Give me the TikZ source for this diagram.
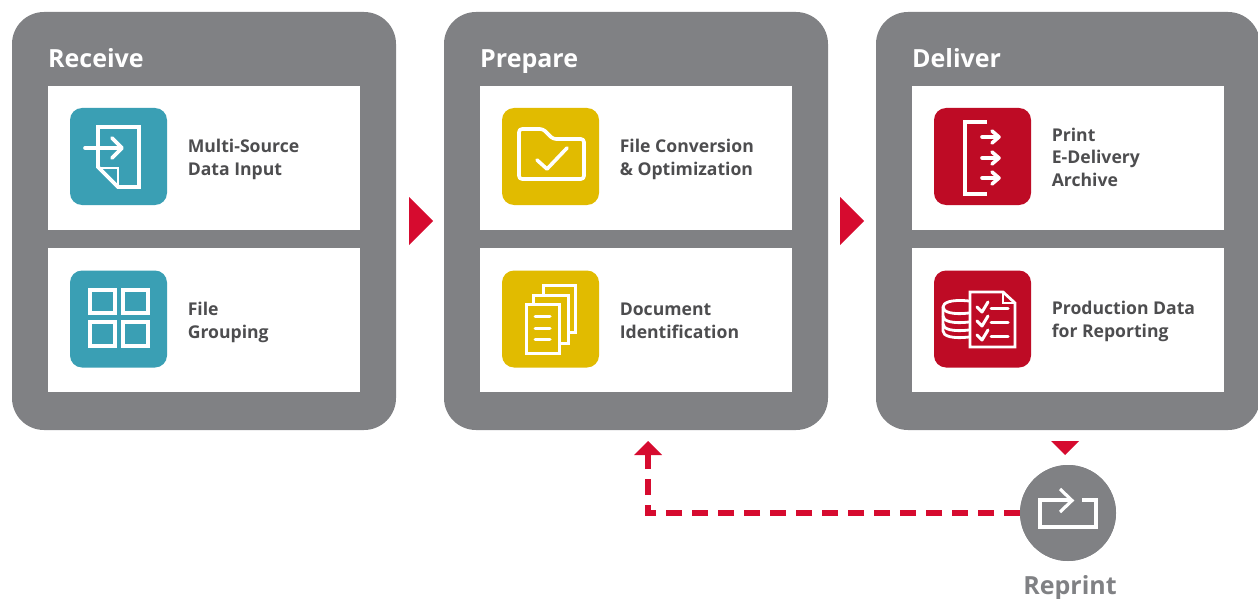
\documentclass[tikz,border=0pt]{standalone}
\usepackage{fontspec}
\setmainfont{Open Sans}
\usetikzlibrary{calc}
\definecolor{panelgray}{HTML}{808184}
\definecolor{iconteal}{HTML}{3A9FB4}
\definecolor{iconyellow}{HTML}{E1BB00}
\definecolor{iconred}{HTML}{BE0B25}
\definecolor{arrowred}{HTML}{D60B2F}
\definecolor{textdark}{HTML}{4D4D4F}
\tikzset{
  panel/.style={fill=panelgray,draw=none,rounded corners=32pt,minimum width=384pt,minimum height=418pt,inner sep=0pt,outer sep=0pt},
  card/.style={fill=white,draw=none,minimum width=312pt,inner sep=0pt,outer sep=0pt},
  iconbox/.style={draw=none,rounded corners=12pt,minimum width=97pt,minimum height=97pt,inner sep=0pt,outer sep=0pt},
  title/.style={anchor=base west,text=white,font=\bfseries\fontsize{25}{30}\selectfont,inner sep=0pt},
  label/.style={anchor=west,align=left,text=textdark,font=\bfseries\fontsize{17.6}{23}\selectfont,inner sep=0pt},
  glyph/.style={draw=white,line width=3.6pt,line join=miter,fill=none},
  glyphr/.style={draw=white,line width=3.6pt,line join=round,line cap=round,fill=none},
  redshape/.style={fill=arrowred,draw=none},
  x=1pt,y=-1pt
}
\begin{document}
\begin{tikzpicture}[x=1pt,y=-1pt]
\useasboundingbox (0,0) rectangle (1258,599);
% panels
\node[panel] (p1) at (204,221) {};
\node[panel] (p2) at (636,221) {};
\node[panel] (p3) at (1068,221) {};
\node[title] (t1) at (48,68) {Receive};
\node[title] (t2) at (480,68) {Prepare};
\node[title] (t3) at (912,68) {Deliver};
% cards
\foreach \n/\cx in {1/204,2/636,3/1068}{
  \node[card,minimum height=144pt] (c\n a) at (\cx,158) {};
  \node[card,minimum height=144pt] (c\n b) at (\cx,320) {};
}
% icon boxes
\node[iconbox,fill=iconteal] (i1) at (118.5,156.5) {};
\node[iconbox,fill=iconteal] (i2) at (118.5,319) {};
\node[iconbox,fill=iconyellow] (i3) at (550.5,156.5) {};
\node[iconbox,fill=iconyellow] (i4) at (550.5,319) {};
\node[iconbox,fill=iconred] (i5) at (982.5,156.5) {};
\node[iconbox,fill=iconred] (i6) at (982.5,319) {};
% labels
\node[label] (l1) at (187.6,159) {Multi-Source\\Data Input};
\node[label] (l2) at (187.6,322) {File\\Grouping};
\node[label] (l3) at (619.6,159) {File Conversion\\\& Optimization};
\node[label,font=\bfseries\fontsize{17.6}{22.5}\selectfont] (l4) at (619.6,321) {Document\\Identification};
\node[label,font=\bfseries\fontsize{17.6}{22.5}\selectfont] (l5) at (1051.6,157) {Print\\E-Delivery\\Archive};
\node[label,font=\bfseries\fontsize{17.6}{22.5}\selectfont] (l6) at (1051.6,321.5) {Production Data\\for Reporting};
% icon 1: document with arrow
\draw[glyph] (98,127) -- (139,127) -- (139,187) -- (118,187) -- (98,167) -- cycle;
\draw[glyph,line width=2.8pt] (98,168) -- (118,168) -- (118,187);
\draw[glyphr] (85,148) -- (121,148);
\draw[glyphr] (112,138) -- (122,148) -- (112,158);
% icon 2: grid
\draw[glyph] (90,290) rectangle (115,313);
\draw[glyph] (123,290) rectangle (148,313);
\draw[glyph] (90,322) rectangle (115,346);
\draw[glyph] (123,322) rectangle (148,346);
% icon 3: folder
\draw[glyphr,rounded corners=3pt] (519,129) -- (543,129) -- (553,139) -- (584,139) -- (584,179) -- (519,179) -- cycle;
\draw[glyphr] (537,160) -- (547,169) -- (567,148);
% icon 4: documents
\draw[glyph,line width=3pt] (526,304) rectangle (559,353);
\draw[glyph,line width=3pt] (533,304) -- (533,295) -- (568,295) -- (568,343) -- (559,343);
\draw[glyph,line width=3pt] (543,295) -- (543,285) -- (575,285) -- (575,332) -- (568,332);
\draw[glyphr,line width=3pt] (535,316) -- (550,316);
\draw[glyphr,line width=3pt] (535,328) -- (550,328);
\draw[glyphr,line width=3pt] (535,339) -- (550,339);
% icon 5: bracket with arrows
\draw[glyph,line width=4.4pt] (987,122) -- (965,122) -- (965,194) -- (987,194);
\foreach \ay in {137,158,178}{
  \draw[glyphr] (982,\ay) -- (998,\ay);
  \draw[glyphr] (992,\ay-6) -- (999,\ay) -- (992,\ay+6);
}
% icon 6: database and checklist
\draw[glyph,line width=2.8pt] (970,292) -- (1003,292) -- (1015,303) -- (1015,347) -- (970,347) -- cycle;
\draw[glyph,line width=1.8pt] (1003,292) -- (1003,303) -- (1015,303);
\foreach \ay in {0,14,28}{
  \draw[glyphr,line width=3pt] (977,307+\ay) -- (982,312+\ay) -- (988,302+\ay);
  \draw[glyphr,line width=3pt] (991,308+\ay) -- (1008,308+\ay);
}
\draw[glyphr,line width=2.8pt] (969,301) .. controls (950,299) and (943,303) .. (943,307) .. controls (943,312) and (952,315) .. (969,313);
\draw[glyphr,line width=2.8pt] (943,307) -- (943,331) .. controls (943,336) and (952,339) .. (969,337);
\draw[glyphr,line width=2.8pt] (943,316) .. controls (943,321) and (952,324) .. (969,322);
\draw[glyphr,line width=2.8pt] (943,324) .. controls (943,329) and (952,332) .. (969,330);
% flow arrows
\path[redshape] (409,197) -- (433,221) -- (409,245) -- cycle;
\path[redshape] (840,197) -- (864,221) -- (840,245) -- cycle;
\path[redshape] (1051,441) -- (1079,441) -- (1065,455) -- cycle;
% reprint loop
\coordinate (corner) at (648,513);
\coordinate (headbase) at (648,455);
\node[circle,fill=panelgray,draw=none,minimum size=96pt,inner sep=0pt,outer sep=0pt] (reprint) at (1068,513) {};
\draw[arrowred,line width=5.4pt,dash pattern=on 15.8pt off 10.2pt] (reprint.west) -- (corner) -- (headbase);
\path[redshape] (634,455) -- (648,441) -- (662,455) -- cycle;
\node[circle,fill=panelgray,draw=none,minimum size=96pt,inner sep=0pt,outer sep=0pt] at (reprint) {};
\draw[glyph,line width=3.6pt] (1065,500) -- (1040,500) -- (1040,527) -- (1096,527) -- (1096,500) -- (1082,500);
\draw[glyph,line width=3.2pt] (1040,500) -- (1071,500);
\draw[glyph,line width=3.2pt] (1060,489) -- (1072,500.5) -- (1060,512);
\node[anchor=base,text=panelgray,font=\bfseries\fontsize{25}{30}\selectfont,inner sep=0pt] (rl) at (1070,594) {Reprint};
\end{tikzpicture}
\end{document}
